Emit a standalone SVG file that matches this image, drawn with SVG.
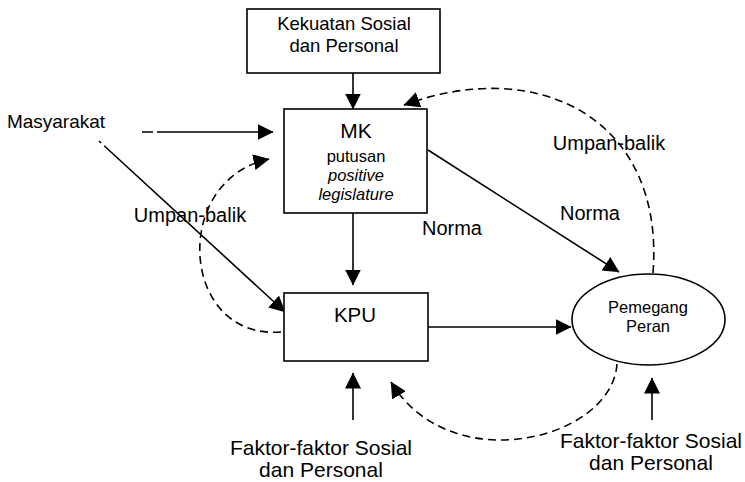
<svg xmlns="http://www.w3.org/2000/svg" width="745" height="482" viewBox="0 0 745 482">
<style>
.box{fill:#fff;stroke:#000;stroke-width:1.6}
.ln{fill:none;stroke:#000;stroke-width:1.6}
.dash{fill:none;stroke:#000;stroke-width:1.6;stroke-dasharray:8 5}
text{font-family:"Liberation Sans",Arial,sans-serif;fill:#000;text-anchor:middle}
.lbl{font-size:20px}
.it{font-style:italic}
</style>
<defs>
<marker id="ah" markerUnits="userSpaceOnUse" markerWidth="17" markerHeight="17" refX="15.5" refY="8" orient="auto">
<path d="M0,0 L16,8 L0,16 z" fill="#000"/>
</marker>
</defs>
<rect width="745" height="482" fill="#fff"/>
<g id="connectors">
<line class="ln" x1="353" y1="73" x2="353" y2="109" marker-end="url(#ah)"/>
<line class="ln" x1="353" y1="213" x2="353" y2="285" marker-end="url(#ah)"/>
<line class="ln" x1="142" y1="132" x2="273" y2="132" stroke-dasharray="11 4 1000" marker-end="url(#ah)"/>
<line class="ln" x1="99" y1="141" x2="285" y2="312" stroke-dasharray="3 4 1000" marker-end="url(#ah)"/>
<line class="ln" x1="428" y1="150" x2="619" y2="272" marker-end="url(#ah)"/>
<line class="ln" x1="428" y1="327" x2="571" y2="327" marker-end="url(#ah)"/>
<line class="ln" x1="353" y1="420" x2="353" y2="373" marker-end="url(#ah)"/>
<line class="ln" x1="652" y1="420" x2="652" y2="378" marker-end="url(#ah)"/>
<path class="dash" d="M653 273 C665 120 540 55 404 105" marker-end="url(#ah)"/>
<path class="dash" d="M281 332 C180 340 170 180 269 159" marker-end="url(#ah)"/>
<path class="dash" d="M617 364 C612 440 450 480 391 382" marker-end="url(#ah)"/>
</g>
<g id="kekuatan">
<rect class="box" x="247" y="9" width="193" height="64"/>
<text x="344" y="30" font-size="18.5">Kekuatan Sosial</text>
<text x="344" y="52" font-size="18.5">dan Personal</text>
</g>
<g id="mk">
<rect class="box" x="284" y="109" width="143" height="104"/>
<text x="356" y="138" font-size="21">MK</text>
<text x="356" y="162" font-size="16.5">putusan</text>
<text x="356" y="181" font-size="16.5" class="it">positive</text>
<text x="356" y="200" font-size="16.5" class="it">legislature</text>
</g>
<g id="kpu">
<rect class="box" x="284" y="293" width="144" height="68"/>
<text x="355" y="322" font-size="20.5">KPU</text>
</g>
<g id="pemegang">
<ellipse class="box" cx="648.5" cy="319.5" rx="76.5" ry="45.5"/>
<text x="648" y="313" font-size="16.5">Pemegang</text>
<text x="648" y="332" font-size="16.5">Peran</text>
</g>
<g id="masyarakat">
<text x="56" y="128" font-size="19">Masyarakat</text>
</g>
<g id="labels">
<text class="lbl" x="190" y="222" font-size="20.5">Umpan-balik</text>
<text class="lbl" x="609" y="150" font-size="20.5">Umpan-balik</text>
<text class="lbl" x="452" y="235" font-size="20.5">Norma</text>
<text class="lbl" x="590" y="220" font-size="20.5">Norma</text>
</g>
<g id="faktor1">
<text x="321" y="455" font-size="21">Faktor-faktor Sosial</text>
<text x="321" y="477" font-size="21">dan Personal</text>
</g>
<g id="faktor2">
<text x="651" y="448" font-size="21">Faktor-faktor Sosial</text>
<text x="651" y="470" font-size="21">dan Personal</text>
</g>
</svg>
